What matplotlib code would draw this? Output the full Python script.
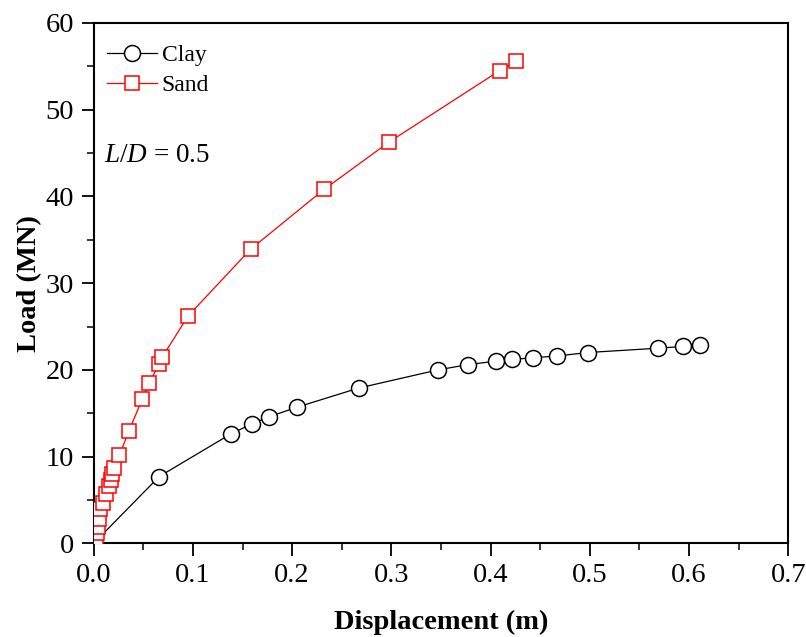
import matplotlib.pyplot as plt
from matplotlib.ticker import MultipleLocator

plt.rcParams['font.family'] = ['Liberation Serif', 'DejaVu Serif']
plt.rcParams['mathtext.fontset'] = 'custom'
plt.rcParams['mathtext.rm'] = 'Liberation Serif'
plt.rcParams['mathtext.it'] = 'Liberation Serif:italic'

# data
clay_disp = [0.0, 0.066, 0.138, 0.160, 0.177, 0.205, 0.267, 0.347, 0.377, 0.405,
             0.422, 0.443, 0.467, 0.498, 0.569, 0.594, 0.611]
clay_load = [0.0, 7.7, 12.6, 13.8, 14.6, 15.7, 17.9, 20.0, 20.6, 21.0,
             21.2, 21.4, 21.6, 22.0, 22.5, 22.7, 22.9]

sand_disp = [0.0027, 0.0033, 0.0043, 0.0053, 0.0067, 0.0094, 0.0121, 0.0154, 0.0171,
             0.0184, 0.0208, 0.0259, 0.0352, 0.049, 0.056, 0.0658, 0.0692,
             0.095, 0.158, 0.232, 0.298, 0.409, 0.426]
sand_load = [0.35, 1.2, 1.9, 2.85, 3.9, 4.65, 5.65, 6.55, 7.35,
             7.95, 8.7, 10.15, 12.9, 16.65, 18.5, 20.65, 21.5,
             26.2, 33.9, 40.8, 46.3, 54.5, 55.6]

fig = plt.figure(figsize=(8.06, 6.37), dpi=100)
ax = fig.add_axes([0.1163, 0.1471, 0.8617, 0.8168])

# clay line starts at origin, markers only on measured points
ax.plot(clay_disp, clay_load, color='black', lw=0.9, zorder=2)
ax.plot(clay_disp[1:], clay_load[1:], ls='none', marker='o', ms=11.5,
        mfc='white', mec='black', mew=1.1, zorder=3)
ax.plot(sand_disp, sand_load, color='red', lw=0.9, marker='s', ms=10.5,
        mfc='white', mec='red', mew=1.1, zorder=4)

# legend proxies
h_clay, = ax.plot([], [], color='black', lw=0.9, marker='o', ms=11.5,
                  mfc='white', mec='black', mew=1.1, label='Clay')
h_sand, = ax.plot([], [], color='red', lw=0.9, marker='s', ms=10.5,
                  mfc='white', mec='red', mew=1.1, label='Sand')
ax.legend(handles=[h_clay, h_sand], loc='upper left', frameon=False,
          fontsize=17, handlelength=2.1, handletextpad=0.2,
          borderaxespad=0.3, labelspacing=0.35,
          bbox_to_anchor=(-0.004, 0.99))

ax.text(0.015, 0.745, r'$L/D$ = 0.5', transform=ax.transAxes,
        fontsize=19.5, ha='left', va='center')

ax.set_xlim(0, 0.7)
ax.set_ylim(0, 60)
ax.xaxis.set_major_locator(MultipleLocator(0.1))
ax.xaxis.set_minor_locator(MultipleLocator(0.05))
ax.yaxis.set_major_locator(MultipleLocator(10))
ax.yaxis.set_minor_locator(MultipleLocator(5))
ax.xaxis.set_major_formatter(plt.FuncFormatter(lambda v, p: f'{v:.1f}'))

ax.tick_params(which='major', direction='out', length=9, width=1.3,
               labelsize=20.5, pad=5)
ax.tick_params(which='minor', direction='out', length=5, width=1.1)
for sp in ax.spines.values():
    sp.set_linewidth(1.5)

ax.set_xlabel('Displacement (m)', fontsize=20.5, fontweight='bold', labelpad=16)
ax.set_ylabel('Load (MN)', fontsize=20.5, fontweight='bold', labelpad=3)

fig.savefig('out.png', dpi=100)
